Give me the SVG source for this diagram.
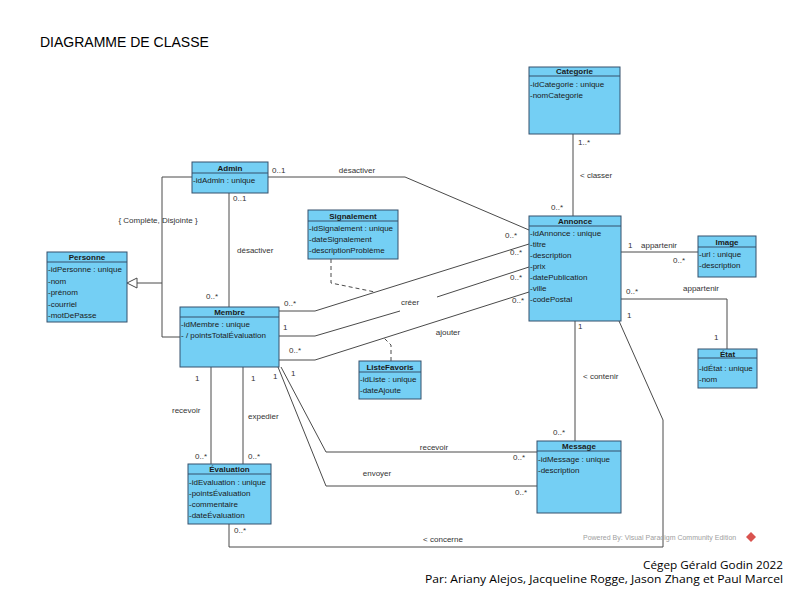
<svg xmlns="http://www.w3.org/2000/svg" width="800" height="600" viewBox="0 0 800 600">
<style>
.box{fill:#74cff4;stroke:#34506c;stroke-width:1}
.hd{fill:none;stroke:#34506c;stroke-width:1}
.nm{font-family:"Liberation Sans",Arial,sans-serif;font-size:8px;font-weight:bold;text-anchor:middle;fill:#1a1a1a}
.at{font-family:"Liberation Sans",Arial,sans-serif;font-size:8px;fill:#1a1a1a}
.ln{fill:none;stroke:#4a4a4a;stroke-width:1}
.ds{fill:none;stroke:#4a4a4a;stroke-width:1;stroke-dasharray:4,3}
.lb{font-family:"Liberation Sans",Arial,sans-serif;font-size:8px;fill:#333}
.lbm{font-family:"Liberation Sans",Arial,sans-serif;font-size:8px;fill:#333;text-anchor:middle}
.ft{font-family:"Open Sans","Liberation Sans",sans-serif;font-size:11px;fill:#000;text-anchor:end}
</style>
<rect width="800" height="600" fill="#ffffff"/>
<text x="40" y="47" font-family="Liberation Sans,Arial,sans-serif" font-size="14" fill="#000">DIAGRAMME DE CLASSE</text>

<g id="connectors">
  <polyline class="ln" points="192,177 162,177 162,337 180,337"/>
  <line class="ln" x1="137" y1="283" x2="162" y2="283"/>
  <polygon points="127,283 137,278 137,288" fill="#fff" stroke="#4a4a4a" stroke-width="1"/>
  <line class="ln" x1="229" y1="193" x2="229" y2="307"/>
  <polyline class="ln" points="268,177 405,177 529,230"/>
  <polyline class="ln" points="279,311 315,311 529,244"/>
  <polyline class="ln" points="279,336 315,336 400,311"/>
  <line class="ln" x1="437" y1="297" x2="529" y2="267"/>
  <polyline class="ln" points="279,360 315,360 529,292"/>
  <polyline class="ds" points="331,259 331,283 375,292"/>
  <polyline class="ds" points="391,361 391,345 384,338"/>
  <line class="ln" x1="573" y1="134" x2="573" y2="216"/>
  <line class="ln" x1="621" y1="252" x2="698" y2="252"/>
  <polyline class="ln" points="621,299 727,299 727,349"/>
  <line class="ln" x1="575" y1="321" x2="575" y2="441"/>
  <line class="ln" x1="211" y1="367" x2="211" y2="464"/>
  <line class="ln" x1="243" y1="367" x2="243" y2="464"/>
  <polyline class="ln" points="281,367 326,452 537,452"/>
  <polyline class="ln" points="278,367 326,486 537,486"/>
  <polyline class="ln" points="619,321 663,420 663,547 229,547 229,524"/>
</g>

<g id="labels">
  <text class="lbm" x="158" y="223">{ Complète, Disjointe }</text>
  <text class="lb" x="272" y="173">0..1</text>
  <text class="lbm" x="357" y="173">désactiver</text>
  <text class="lb" x="505" y="238">0..*</text>
  <text class="lb" x="233" y="201">0..1</text>
  <text class="lb" x="237" y="253">désactiver</text>
  <text class="lb" x="206" y="299">0..*</text>
  <text class="lb" x="284" y="306">0..*</text>
  <text class="lb" x="510" y="255">0..*</text>
  <text class="lb" x="283" y="330">1</text>
  <text class="lbm" x="410" y="305">créer</text>
  <text class="lb" x="510" y="280">0..*</text>
  <text class="lb" x="289" y="353">0..*</text>
  <text class="lbm" x="448" y="335">ajouter</text>
  <text class="lb" x="512" y="303">0..*</text>
  <text class="lb" x="578" y="145">1..*</text>
  <text class="lb" x="580" y="178">&lt; classer</text>
  <text class="lb" x="551" y="210">0..*</text>
  <text class="lb" x="628" y="248">1</text>
  <text class="lb" x="641" y="248">appartenir</text>
  <text class="lb" x="673" y="263">0..*</text>
  <text class="lb" x="626" y="294">0..*</text>
  <text class="lb" x="683" y="291">appartenir</text>
  <text class="lb" x="627" y="318">1</text>
  <text class="lb" x="714" y="340">1</text>
  <text class="lb" x="578" y="329">1</text>
  <text class="lb" x="583" y="379">&lt; contenir</text>
  <text class="lb" x="553" y="435">0..*</text>
  <text class="lb" x="195" y="381">1</text>
  <text class="lb" x="172" y="413">recevoir</text>
  <text class="lb" x="195" y="459">0..*</text>
  <text class="lb" x="251" y="381">1</text>
  <text class="lb" x="248" y="419">expedier</text>
  <text class="lb" x="248" y="459">0..*</text>
  <text class="lb" x="273" y="379">1</text>
  <text class="lb" x="291" y="376">1</text>
  <text class="lbm" x="434" y="450">recevoir</text>
  <text class="lb" x="513" y="460">0..*</text>
  <text class="lbm" x="377" y="476">envoyer</text>
  <text class="lb" x="515" y="495">0..*</text>
  <text class="lb" x="234" y="533">0..*</text>
  <text class="lbm" x="443" y="542">&lt; concerne</text>
</g>

<g id="Admin">
  <rect class="box" x="192" y="162" width="76" height="31"/>
  <line class="hd" x1="192" y1="173" x2="268" y2="173"/>
  <text class="nm" x="230" y="170.5">Admin</text>
  <text class="at" x="193" y="183">-idAdmin : unique</text>
</g>
<g id="Personne">
  <rect class="box" x="47" y="252" width="80" height="70"/>
  <line class="hd" x1="47" y1="262" x2="127" y2="262"/>
  <text class="nm" x="87" y="260">Personne</text>
  <text class="at" x="48" y="272">-idPersonne : unique</text>
  <text class="at" x="48" y="283.5">-nom</text>
  <text class="at" x="48" y="295">-prénom</text>
  <text class="at" x="48" y="306.5">-courriel</text>
  <text class="at" x="48" y="318">-motDePasse</text>
</g>
<g id="Categorie">
  <rect class="box" x="529" y="67" width="91" height="67"/>
  <line class="hd" x1="529" y1="76" x2="620" y2="76"/>
  <text class="nm" x="574.5" y="74">Categorie</text>
  <text class="at" x="530" y="87">-idCategorie : unique</text>
  <text class="at" x="530" y="97.5">-nomCategorie</text>
</g>
<g id="Annonce">
  <rect class="box" x="529" y="216" width="92" height="105"/>
  <line class="hd" x1="529" y1="226" x2="621" y2="226"/>
  <text class="nm" x="575" y="224">Annonce</text>
  <text class="at" x="530" y="236">-idAnnonce : unique</text>
  <text class="at" x="530" y="247">-titre</text>
  <text class="at" x="530" y="258">-description</text>
  <text class="at" x="530" y="269">-prix</text>
  <text class="at" x="530" y="280">-datePublication</text>
  <text class="at" x="530" y="291">-ville</text>
  <text class="at" x="530" y="302">-codePostal</text>
</g>
<g id="Signalement">
  <rect class="box" x="308" y="210" width="90" height="49"/>
  <line class="hd" x1="308" y1="221" x2="398" y2="221"/>
  <text class="nm" x="353" y="218.5">Signalement</text>
  <text class="at" x="309" y="231">-idSignalement : unique</text>
  <text class="at" x="309" y="242">-dateSignalement</text>
  <text class="at" x="309" y="253">-descriptionProblème</text>
</g>
<g id="Image">
  <rect class="box" x="698" y="236" width="58" height="41"/>
  <line class="hd" x1="698" y1="247" x2="756" y2="247"/>
  <text class="nm" x="727" y="244.5">Image</text>
  <text class="at" x="699" y="257">-url : unique</text>
  <text class="at" x="699" y="268">-description</text>
</g>
<g id="Etat">
  <rect class="box" x="698" y="349" width="59" height="39"/>
  <line class="hd" x1="698" y1="358" x2="757" y2="358"/>
  <text class="nm" x="727.5" y="356.5">État</text>
  <text class="at" x="699" y="370.5">-idÉtat : unique</text>
  <text class="at" x="699" y="381.5">-nom</text>
</g>
<g id="Membre">
  <rect class="box" x="180" y="307" width="99" height="60"/>
  <line class="hd" x1="180" y1="317" x2="279" y2="317"/>
  <text class="nm" x="229.5" y="315">Membre</text>
  <text class="at" x="181" y="327">-idMembre : unique</text>
  <text class="at" x="181" y="338">- / pointsTotalÉvaluation</text>
</g>
<g id="ListeFavoris">
  <rect class="box" x="359" y="361" width="62" height="38"/>
  <line class="hd" x1="359" y1="372" x2="421" y2="372"/>
  <text class="nm" x="390" y="369.5">ListeFavoris</text>
  <text class="at" x="360" y="382">-idListe : unique</text>
  <text class="at" x="360" y="393">-dateAjoute</text>
</g>
<g id="Message">
  <rect class="box" x="537" y="441" width="84" height="72"/>
  <line class="hd" x1="537" y1="451" x2="621" y2="451"/>
  <text class="nm" x="579" y="449">Message</text>
  <text class="at" x="538" y="462">-idMessage : unique</text>
  <text class="at" x="538" y="473">-description</text>
</g>
<g id="Evaluation">
  <rect class="box" x="188" y="464" width="83" height="60"/>
  <line class="hd" x1="188" y1="474" x2="271" y2="474"/>
  <text class="nm" x="229.5" y="472">Évaluation</text>
  <text class="at" x="189" y="485">-idEvaluation : unique</text>
  <text class="at" x="189" y="496">-pointsÉvaluation</text>
  <text class="at" x="189" y="507">-commentaire</text>
  <text class="at" x="189" y="518">-dateÉvaluation</text>
</g>

<text x="583" y="540" font-family="Liberation Sans,Arial,sans-serif" font-size="7" fill="#a0a0a0">Powered By: Visual Paradigm Community Edition</text>
<path d="M751,532 L756,537 L751,542 L746,537 Z" fill="#d9534f"/>
<text class="ft" x="783" y="569" textLength="140" lengthAdjust="spacingAndGlyphs">Cégep Gérald Godin 2022</text>
<text class="ft" x="783" y="583" textLength="358" lengthAdjust="spacingAndGlyphs">Par: Ariany Alejos, Jacqueline Rogge, Jason Zhang et Paul Marcel</text>
</svg>
